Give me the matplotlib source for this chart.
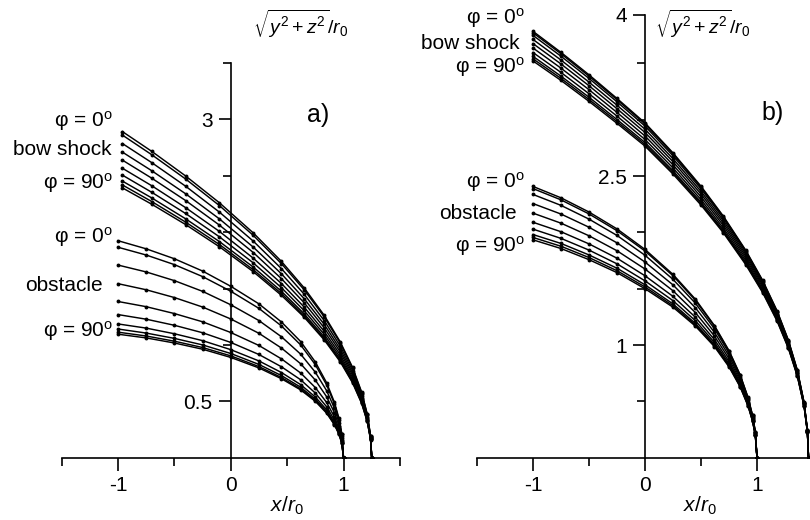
import matplotlib.pyplot as plt
from matplotlib.ticker import FixedLocator, FixedFormatter

plt.rcParams['font.family'] = ['Liberation Sans', 'DejaVu Sans']
plt.rcParams['mathtext.fontset'] = 'custom'
plt.rcParams['mathtext.rm'] = 'Liberation Sans'
plt.rcParams['mathtext.it'] = 'Liberation Sans:italic'
plt.rcParams['mathtext.sf'] = 'Liberation Sans'
plt.rcParams['axes.unicode_minus'] = False

# curves for phi = 0, 10, ..., 90 degrees
a_obs_x = [-1, -0.75, -0.5, -0.25, 0, 0.25, 0.45, 0.62, 0.75, 0.85, 0.92, 0.96, 0.985, 1.0]
a_obs_y = [
    [1.924, 1.852, 1.764, 1.655, 1.520, 1.364, 1.203, 1.030, 0.849, 0.665, 0.490, 0.348, 0.214, 0],
    [1.866, 1.797, 1.712, 1.606, 1.476, 1.324, 1.168, 1.000, 0.825, 0.646, 0.476, 0.338, 0.208, 0],
    [1.708, 1.647, 1.570, 1.475, 1.356, 1.216, 1.072, 0.918, 0.758, 0.595, 0.438, 0.311, 0.191, 0],
    [1.543, 1.489, 1.420, 1.336, 1.230, 1.103, 0.972, 0.833, 0.688, 0.541, 0.398, 0.283, 0.174, 0],
    [1.385, 1.339, 1.278, 1.205, 1.110, 0.995, 0.876, 0.751, 0.622, 0.490, 0.361, 0.256, 0.157, 0],
    [1.269, 1.228, 1.174, 1.108, 1.022, 0.915, 0.806, 0.691, 0.573, 0.452, 0.333, 0.237, 0.145, 0],
    [1.186, 1.149, 1.099, 1.038, 0.958, 0.858, 0.755, 0.648, 0.538, 0.425, 0.313, 0.223, 0.137, 0],
    [1.141, 1.105, 1.058, 1.000, 0.924, 0.827, 0.728, 0.625, 0.519, 0.410, 0.302, 0.215, 0.132, 0],
    [1.113, 1.079, 1.033, 0.977, 0.903, 0.808, 0.711, 0.610, 0.508, 0.401, 0.295, 0.210, 0.129, 0],
    [1.095, 1.062, 1.017, 0.962, 0.889, 0.796, 0.700, 0.601, 0.500, 0.395, 0.291, 0.207, 0.127, 0],
]

a_bow_x = [-0.96, -0.70, -0.40, -0.10, 0.20, 0.45, 0.65, 0.83, 0.97, 1.08, 1.16, 1.21, 1.24, 1.25]
a_bow_y = [
    [2.891, 2.716, 2.498, 2.260, 1.993, 1.740, 1.507, 1.261, 1.029, 0.802, 0.584, 0.389, 0.195, 0],
    [2.860, 2.686, 2.471, 2.235, 1.971, 1.720, 1.490, 1.247, 1.018, 0.793, 0.577, 0.385, 0.192, 0],
    [2.785, 2.616, 2.407, 2.177, 1.920, 1.676, 1.451, 1.214, 0.991, 0.772, 0.562, 0.375, 0.187, 0],
    [2.709, 2.544, 2.340, 2.117, 1.867, 1.630, 1.411, 1.181, 0.964, 0.751, 0.547, 0.364, 0.182, 0],
    [2.638, 2.478, 2.280, 2.062, 1.819, 1.587, 1.375, 1.150, 0.939, 0.732, 0.532, 0.355, 0.177, 0],
    [2.566, 2.411, 2.217, 2.006, 1.769, 1.544, 1.337, 1.119, 0.914, 0.712, 0.518, 0.345, 0.173, 0],
    [2.505, 2.353, 2.165, 1.958, 1.727, 1.507, 1.305, 1.092, 0.892, 0.695, 0.506, 0.337, 0.169, 0],
    [2.452, 2.303, 2.118, 1.916, 1.690, 1.475, 1.277, 1.069, 0.873, 0.680, 0.495, 0.330, 0.165, 0],
    [2.418, 2.271, 2.089, 1.890, 1.666, 1.455, 1.260, 1.054, 0.861, 0.671, 0.488, 0.325, 0.163, 0],
    [2.392, 2.247, 2.067, 1.870, 1.649, 1.439, 1.247, 1.043, 0.852, 0.664, 0.483, 0.322, 0.161, 0],
]

b_obs_x = [-1, -0.75, -0.5, -0.25, 0, 0.25, 0.45, 0.62, 0.75, 0.85, 0.92, 0.96, 0.985, 1.0]
b_obs_y = [
    [2.408, 2.307, 2.181, 2.031, 1.849, 1.627, 1.407, 1.173, 0.951, 0.735, 0.535, 0.377, 0.231, 0],
    [2.389, 2.289, 2.164, 2.015, 1.835, 1.615, 1.397, 1.166, 0.945, 0.731, 0.532, 0.375, 0.230, 0],
    [2.337, 2.240, 2.118, 1.973, 1.797, 1.583, 1.371, 1.145, 0.929, 0.719, 0.524, 0.369, 0.226, 0],
    [2.256, 2.163, 2.046, 1.907, 1.737, 1.534, 1.331, 1.113, 0.905, 0.700, 0.511, 0.360, 0.221, 0],
    [2.171, 2.082, 1.970, 1.837, 1.675, 1.482, 1.288, 1.080, 0.879, 0.681, 0.497, 0.351, 0.215, 0],
    [2.090, 2.006, 1.898, 1.771, 1.615, 1.432, 1.247, 1.048, 0.854, 0.663, 0.484, 0.342, 0.210, 0],
    [2.029, 1.947, 1.843, 1.721, 1.570, 1.394, 1.216, 1.023, 0.835, 0.649, 0.474, 0.335, 0.205, 0],
    [1.981, 1.902, 1.800, 1.682, 1.535, 1.365, 1.192, 1.005, 0.821, 0.638, 0.467, 0.330, 0.202, 0],
    [1.955, 1.877, 1.777, 1.660, 1.516, 1.349, 1.179, 0.994, 0.813, 0.632, 0.462, 0.327, 0.200, 0],
    [1.934, 1.857, 1.758, 1.643, 1.500, 1.336, 1.168, 0.986, 0.806, 0.627, 0.459, 0.325, 0.199, 0],
]

b_bow_x = [-1, -0.75, -0.5, -0.25, 0, 0.25, 0.5, 0.7, 0.9, 1.05, 1.18, 1.28, 1.36, 1.42, 1.45, 1.46]
b_bow_y = [
    [3.785, 3.598, 3.399, 3.189, 2.972, 2.706, 2.410, 2.144, 1.841, 1.575, 1.302, 1.044, 0.778, 0.492, 0.246, 0],
    [3.772, 3.586, 3.387, 3.178, 2.962, 2.697, 2.402, 2.137, 1.834, 1.570, 1.297, 1.040, 0.775, 0.490, 0.245, 0],
    [3.749, 3.564, 3.367, 3.159, 2.944, 2.680, 2.387, 2.124, 1.823, 1.560, 1.289, 1.034, 0.770, 0.487, 0.244, 0],
    [3.713, 3.530, 3.334, 3.129, 2.916, 2.654, 2.364, 2.104, 1.806, 1.545, 1.277, 1.024, 0.763, 0.483, 0.241, 0],
    [3.676, 3.495, 3.302, 3.098, 2.887, 2.628, 2.341, 2.083, 1.788, 1.530, 1.265, 1.014, 0.756, 0.478, 0.239, 0],
    [3.637, 3.458, 3.267, 3.065, 2.856, 2.600, 2.316, 2.061, 1.769, 1.514, 1.251, 1.003, 0.748, 0.473, 0.236, 0],
    [3.597, 3.420, 3.231, 3.032, 2.825, 2.572, 2.291, 2.038, 1.750, 1.497, 1.237, 0.992, 0.739, 0.468, 0.234, 0],
    [3.563, 3.387, 3.200, 3.002, 2.798, 2.547, 2.269, 2.019, 1.733, 1.483, 1.225, 0.982, 0.732, 0.463, 0.232, 0],
    [3.541, 3.367, 3.180, 2.984, 2.781, 2.532, 2.255, 2.006, 1.722, 1.474, 1.218, 0.977, 0.728, 0.460, 0.230, 0],
    [3.522, 3.349, 3.163, 2.968, 2.766, 2.518, 2.243, 1.996, 1.713, 1.466, 1.211, 0.971, 0.724, 0.458, 0.229, 0],
]

x_major = [-1, 0, 1]
x_labels = ['-1', '0', '1']
x_minor = [-1.5, -0.5, 0.5, 1.5]

a_y_major = [0.5, 3]
a_y_labels = ['0.5', '3']
a_y_minor = [1, 1.5, 2, 2.5, 3.5]
b_y_major = [1, 2.5, 3.93]
b_y_labels = ['1', '2.5', '4']
b_y_minor = [0.5, 1.5, 2, 3, 3.5]

W, H = 810, 520
fig = plt.figure(figsize=(W / 100, H / 100), dpi=100)
ax_a = fig.add_axes([61.5 / W, (H - 457.7) / H, 338.4 / W, 394.8 / H])
ax_b = fig.add_axes([477 / W, (H - 457.7) / H, 336 / W, 442.7 / H])


def setup(ax, ymax, ymaj, ylab, ymin):
    ax.set_xlim(-1.5, 1.5)
    ax.set_ylim(0, ymax)
    for s in ['top', 'right']:
        ax.spines[s].set_visible(False)
    ax.spines['left'].set_position(('data', 0))
    for s in ['left', 'bottom']:
        ax.spines[s].set_linewidth(1.2)
    ax.xaxis.set_major_locator(FixedLocator(x_major))
    ax.xaxis.set_major_formatter(FixedFormatter(x_labels))
    ax.xaxis.set_minor_locator(FixedLocator(x_minor))
    ax.yaxis.set_major_locator(FixedLocator(ymaj))
    ax.yaxis.set_major_formatter(FixedFormatter(ylab))
    ax.yaxis.set_minor_locator(FixedLocator(ymin))
    ax.tick_params(which='major', length=9, width=1.2, labelsize=15, pad=4)
    ax.tick_params(which='minor', length=6, width=1.2)
    ax.patch.set_alpha(0)


def curves(ax, xs, ys):
    for y in ys:
        ax.plot(xs, y, color='black', lw=1.05, marker='o', ms=2.8, mew=0)


setup(ax_a, 3.5, a_y_major, a_y_labels, a_y_minor)
setup(ax_b, 3.93, b_y_major, b_y_labels, b_y_minor)
curves(ax_a, a_obs_x, a_obs_y)
curves(ax_a, a_bow_x, a_bow_y)
curves(ax_b, b_obs_x, b_obs_y)
curves(ax_b, b_bow_x, b_bow_y)

fs = 15
phi0 = r'φ = 0$^{\mathrm{o}}$'
phi90 = r'φ = 90$^{\mathrm{o}}$'
ax_a.text(-1.043, 2.985, phi0, ha='right', va='center', fontsize=fs)
ax_a.text(-1.052, 2.728, 'bow shock', ha='right', va='center', fontsize=fs)
ax_a.text(-1.043, 2.435, phi90, ha='right', va='center', fontsize=fs)
ax_a.text(-1.043, 1.957, phi0, ha='right', va='center', fontsize=fs)
ax_a.text(-1.132, 1.531, 'obstacle', ha='right', va='center', fontsize=fs)
ax_a.text(-1.043, 1.123, phi90, ha='right', va='center', fontsize=fs)
ax_a.text(0.774, 3.038, 'a)', ha='center', va='center', fontsize=18)

ax_b.text(-1.071, 3.902, phi0, ha='right', va='center', fontsize=fs)
ax_b.text(-1.116, 3.680, 'bow shock', ha='right', va='center', fontsize=fs)
ax_b.text(-1.071, 3.467, phi90, ha='right', va='center', fontsize=fs)
ax_b.text(-1.071, 2.446, phi0, ha='right', va='center', fontsize=fs)
ax_b.text(-1.143, 2.171, 'obstacle', ha='right', va='center', fontsize=fs)
ax_b.text(-1.071, 1.879, phi90, ha='right', va='center', fontsize=fs)
ax_b.text(1.143, 3.059, 'b)', ha='center', va='center', fontsize=18)

ylab = r'$\sqrt{y^2 + z^2}/r_0$'
xlab = r'$x/r_0$'
fig.text(301 / W, 1 - 24 / H, ylab, ha='center', va='center', fontsize=14)
fig.text(703 / W, 1 - 24 / H, ylab, ha='center', va='center', fontsize=14)
fig.text(287 / W, 1 - 506 / H, xlab, ha='center', va='center', fontsize=15)
fig.text(700 / W, 1 - 506 / H, xlab, ha='center', va='center', fontsize=15)

fig.savefig('out.png', dpi=100)
